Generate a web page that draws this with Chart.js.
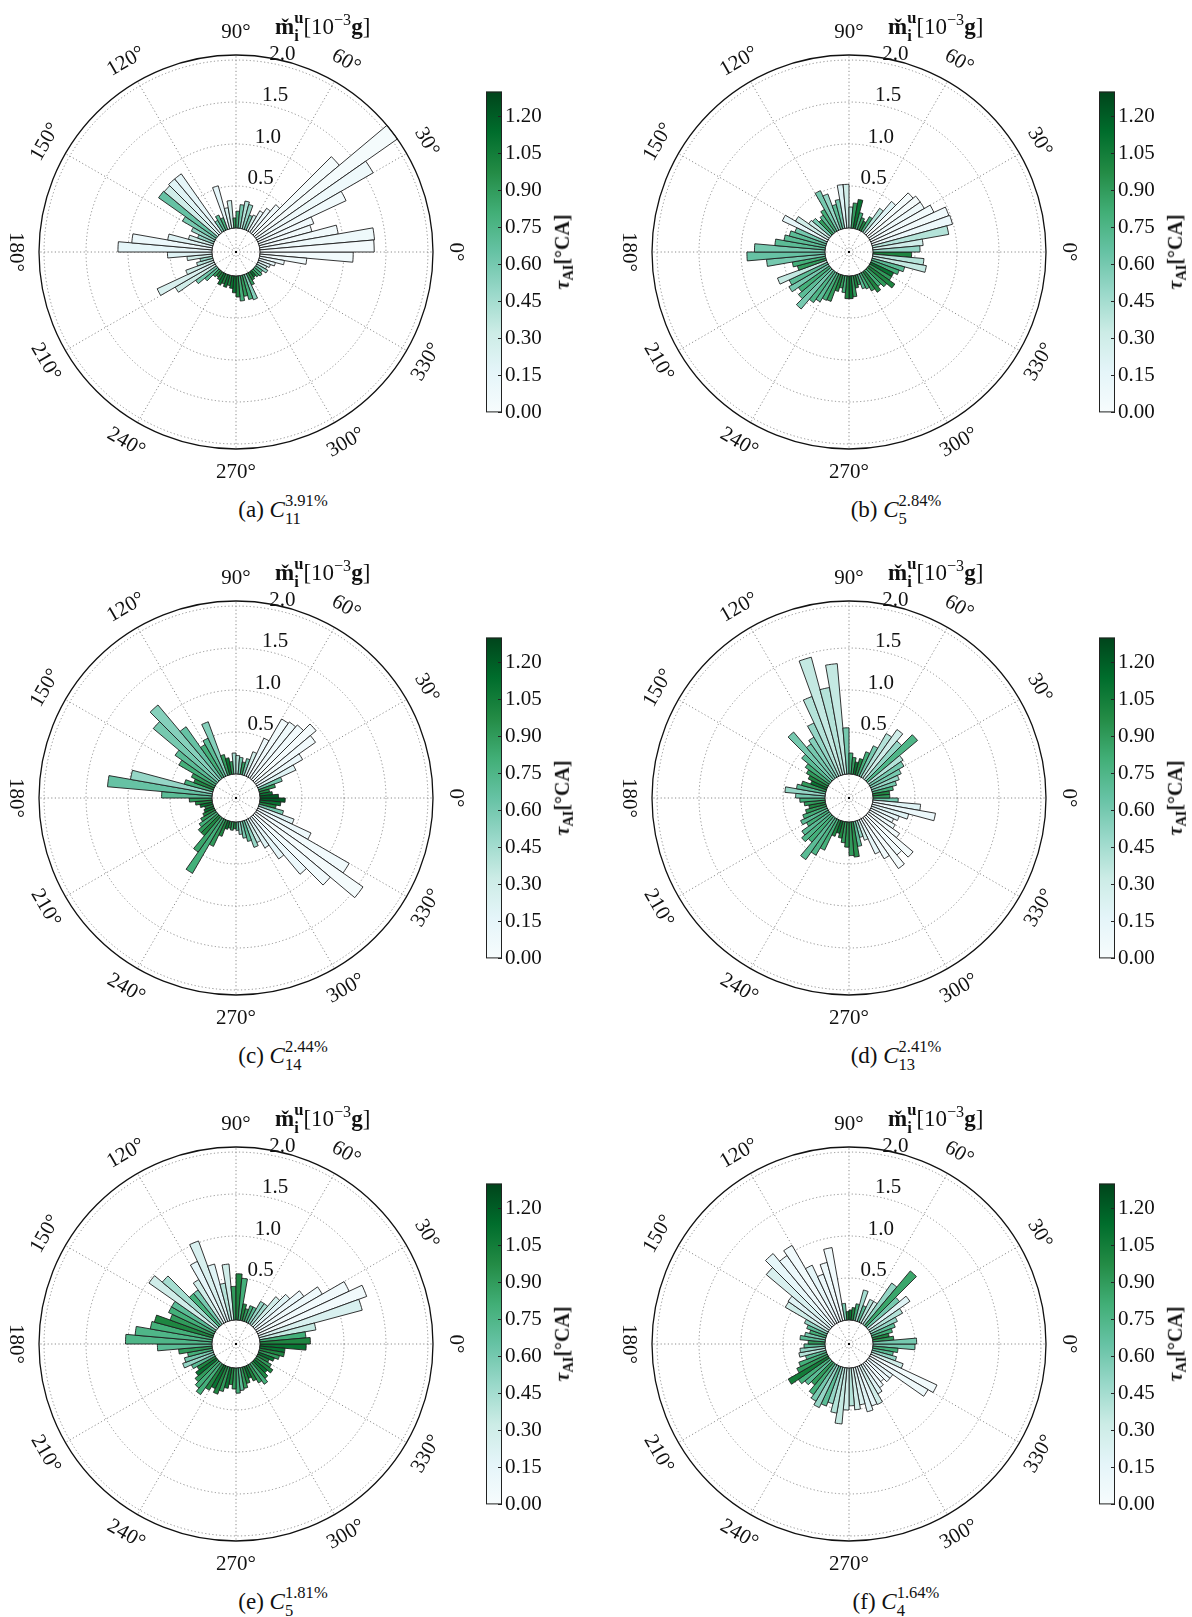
<!DOCTYPE html>
<html>
<head>
<meta charset="utf-8">
<script src="https://cdn.jsdelivr.net/npm/chart.js@4.4.0/dist/chart.umd.min.js"></script>
<style>
  body { margin: 0; background: #fff; }
  #page { position: relative; width: 1192px; height: 1617px; overflow: hidden;
          font-family: "Liberation Serif", "DejaVu Serif", serif; color: #111; }
  canvas { position: absolute; }
  .ttl { position: absolute; font-size: 23px; line-height: 28px; white-space: nowrap; }
  .cap { position: absolute; font-size: 23px; line-height: 28px; white-space: nowrap; transform: translateX(-50%); }
  .cbl { position: absolute; font-size: 20px; font-weight: bold; white-space: nowrap;
         transform: translate(-50%, -50%) rotate(-90deg); }
  .st { display: inline-block; vertical-align: -0.45em; font-size: 0.72em; line-height: 1.1; }
  .st span { display: block; }
  .sup { font-size: 0.7em; vertical-align: 0.55em; }
</style>
</head>
<body>
<div id="page"></div>
<script>
// angular bins, 5 degrees wide, bin k covers [5k, 5k+5]
const binLabels = Array.from({ length: 72 }, (_, k) => (5 * k) + "°");

const ringTicks = [0.5, 1.0, 1.5, 2.0];
const ringLabels = ["0.5", "1.0", "1.5", "2.0"];
const angleTicks = [0, 30, 60, 90, 120, 150, 180, 210, 240, 270, 300, 330];
const angleLabels = ["0°", "30°", "60°", "90°", "120°", "150°", "180°", "210°", "240°", "270°", "300°", "330°"];
const cbTicks = [0.00, 0.15, 0.30, 0.45, 0.60, 0.75, 0.90, 1.05, 1.20];

const R_MIN = -0.286;
const R_MAX = 2.06;
const TAU_MAX = 1.30;

// mass per bin [10^-3 g], bins 0..71 counter-clockwise from 0 deg
const massA = [1.36, 1.37, 0.95, 0.65, 0.70, 1.16, 1.60, 2.06, 1.32, 0.45,
               0.35, 0.28, 0.20, 0.18, 0.30, 0.33, 0.28, 0.20, 0.12, 0.33,
               0.25, 0.53, 0.15, 0.20, 0.15, 0.85, 0.85, 0.83, 0.84, 0.45,
               0.30, 0.20, 0.30, 0.54, 0.96, 1.12, 0.53, 0.30, 0.15, 0.20,
               0.35, 0.75, 0.55, 0.30, 0.20, 0.10, 0.08, 0.10, 0.15, 0.12,
               0.15, 0.12, 0.15, 0.20, 0.25, 0.30, 0.25, 0.30, 0.32, 0.15,
               0.10, 0.08, 0.10, 0.12, 0.10, 0.15, 0.12, 0.15, 0.20, 0.30,
               0.56, 1.11];
const tauA = [0.04, 0.08, 0.05, 0.05, 0.06, 0.05, 0.08, 0.03, 0.03, 0.05,
              0.10, 0.12, 0.30, 0.60, 0.50, 0.40, 0.60, 0.80, 0.90, 0.30,
              0.25, 0.15, 0.80, 0.70, 0.60, 0.15, 0.20, 0.30, 0.65, 0.60,
              0.50, 0.50, 0.30, 0.20, 0.10, 0.15, 0.20, 0.30, 0.50, 0.40,
              0.30, 0.25, 0.30, 0.60, 0.70, 0.90, 1.00, 1.00, 1.10, 1.00,
              1.10, 1.00, 1.10, 1.10, 1.00, 0.80, 0.90, 0.80, 0.55, 0.90,
              1.00, 1.10, 0.90, 0.80, 0.70, 0.50, 0.30, 0.20, 0.15, 0.10,
              0.05, 0.05];

const massB = [0.56, 0.60, 0.92, 0.99, 0.98, 0.83, 0.75, 0.75, 0.71, 0.50,
               0.35, 0.20, 0.12, 0.15, 0.20, 0.35, 0.30, 0.25, 0.52, 0.52,
               0.35, 0.30, 0.45, 0.52, 0.30, 0.25, 0.22, 0.28, 0.30, 0.45,
               0.59, 0.40, 0.45, 0.50, 0.60, 0.84, 0.93, 0.70, 0.40, 0.35,
               0.62, 0.50, 0.54, 0.45, 0.50, 0.60, 0.45, 0.40, 0.35, 0.34,
               0.20, 0.15, 0.20, 0.27, 0.27, 0.25, 0.15, 0.12, 0.18, 0.20,
               0.25, 0.30, 0.25, 0.30, 0.38, 0.30, 0.30, 0.35, 0.40, 0.65,
               0.61, 0.46];
const tauB = [0.50, 0.30, 0.40, 0.10, 0.05, 0.05, 0.08, 0.03, 0.03, 0.20,
              0.40, 0.80, 1.00, 0.90, 0.80, 1.10, 0.90, 0.40, 0.30, 0.20,
              0.60, 0.70, 0.50, 0.60, 0.80, 0.70, 0.90, 0.60, 0.30, 0.30,
              0.15, 0.60, 0.70, 0.70, 0.70, 0.60, 0.65, 0.60, 0.80, 0.90,
              0.35, 0.70, 0.60, 0.80, 0.70, 0.60, 0.75, 0.70, 0.80, 0.90,
              1.00, 0.90, 0.80, 1.00, 1.10, 0.90, 1.00, 0.90, 0.70, 0.80,
              0.90, 1.00, 0.80, 0.90, 1.00, 0.90, 1.10, 0.80, 0.70, 0.35,
              0.40, 1.00];

const massC = [0.22, 0.15, 0.12, 0.20, 0.30, 0.50, 0.63, 0.87, 0.96, 0.85,
               0.82, 0.80, 0.50, 0.30, 0.20, 0.15, 0.20, 0.22, 0.25, 0.15,
               0.20, 0.25, 0.68, 0.50, 0.45, 0.75, 1.16, 1.00, 0.60, 0.50,
               0.30, 0.25, 0.35, 0.99, 1.25, 0.60, 0.27, 0.20, 0.15, 0.10,
               0.12, 0.15, 0.20, 0.25, 0.30, 0.30, 0.50, 0.75, 0.35, 0.20,
               0.10, 0.08, 0.10, 0.08, 0.10, 0.15, 0.20, 0.25, 0.34, 0.30,
               0.40, 0.60, 0.90, 1.18, 1.56, 1.27, 0.70, 0.45, 0.30, 0.20,
               0.25, 0.30];
const tauC = [1.20, 1.10, 1.00, 0.90, 0.60, 0.20, 0.10, 0.05, 0.03, 0.05,
              0.08, 0.05, 0.10, 0.30, 0.60, 0.90, 0.60, 0.40, 0.45, 0.90,
              1.10, 0.90, 0.55, 0.70, 0.80, 0.65, 0.55, 0.60, 0.70, 0.80,
              0.90, 1.00, 0.80, 0.50, 0.65, 0.70, 0.90, 1.00, 1.10, 1.00,
              1.10, 1.00, 0.90, 0.80, 0.90, 1.00, 0.85, 0.80, 0.90, 1.00,
              1.10, 1.00, 0.90, 1.00, 0.70, 0.50, 0.60, 0.70, 0.50, 0.30,
              0.20, 0.15, 0.10, 0.05, 0.03, 0.05, 0.10, 0.20, 0.60, 1.00,
              1.10, 1.20];

const massD = [0.20, 0.20, 0.25, 0.30, 0.35, 0.40, 0.47, 0.50, 0.78, 0.60,
               0.71, 0.60, 0.40, 0.30, 0.20, 0.15, 0.20, 0.25, 0.55, 1.32,
               1.05, 1.45, 1.00, 0.70, 0.55, 0.50, 0.74, 0.45, 0.35, 0.30,
               0.25, 0.20, 0.30, 0.35, 0.48, 0.35, 0.30, 0.25, 0.20, 0.25,
               0.30, 0.35, 0.30, 0.40, 0.45, 0.40, 0.61, 0.50, 0.40, 0.20,
               0.15, 0.20, 0.25, 0.30, 0.40, 0.42, 0.30, 0.20, 0.25, 0.45,
               0.55, 0.74, 0.60, 0.71, 0.45, 0.35, 0.30, 0.35, 0.45, 0.76,
               0.57, 0.30];
const tauD = [0.90, 1.00, 0.80, 0.60, 0.50, 0.60, 0.60, 0.40, 0.75, 0.50,
              0.30, 0.40, 0.60, 0.80, 1.00, 1.10, 0.90, 0.80, 0.60, 0.35,
              0.40, 0.35, 0.40, 0.50, 0.55, 0.60, 0.60, 0.70, 0.80, 0.90,
              1.00, 1.10, 0.90, 0.70, 0.50, 0.60, 0.80, 0.90, 1.00, 0.90,
              0.80, 0.70, 0.80, 0.70, 0.75, 0.80, 0.70, 0.75, 0.80, 1.00,
              1.10, 1.00, 0.90, 0.95, 0.90, 0.95, 0.70, 0.50, 0.30, 0.15,
              0.05, 0.03, 0.05, 0.03, 0.05, 0.08, 0.10, 0.15, 0.20, 0.10,
              0.20, 0.60];

const massE = [0.60, 0.55, 0.68, 1.27, 1.37, 1.20, 0.90, 0.70, 0.55, 0.45,
               0.30, 0.30, 0.20, 0.20, 0.15, 0.20, 0.50, 0.55, 0.40, 0.67,
               0.45, 0.70, 1.02, 0.80, 0.60, 0.50, 0.50, 0.86, 0.98, 0.60,
               0.60, 0.55, 0.72, 0.75, 0.92, 1.03, 0.65, 0.40, 0.30, 0.35,
               0.39, 0.30, 0.25, 0.30, 0.35, 0.40, 0.45, 0.35, 0.30, 0.35,
               0.30, 0.25, 0.20, 0.25, 0.30, 0.27, 0.25, 0.20, 0.15, 0.20,
               0.25, 0.30, 0.25, 0.20, 0.25, 0.20, 0.15, 0.20, 0.25, 0.30,
               0.30, 0.55];
const tauE = [1.00, 0.80, 0.35, 0.25, 0.05, 0.05, 0.08, 0.10, 0.20, 0.30,
              0.45, 0.50, 0.70, 0.80, 0.90, 1.00, 0.80, 1.00, 0.90, 0.30,
              0.40, 0.20, 0.25, 0.15, 0.30, 0.60, 0.80, 0.45, 0.30, 0.70,
              0.80, 0.90, 1.00, 0.80, 0.75, 0.75, 0.70, 0.90, 0.80, 0.60,
              0.50, 0.70, 1.00, 1.10, 0.90, 0.80, 0.80, 1.00, 1.10, 1.00,
              0.90, 1.10, 1.00, 0.90, 0.80, 0.70, 0.90, 1.00, 1.10, 1.00,
              0.90, 0.80, 1.00, 1.10, 1.00, 0.90, 1.00, 1.10, 0.90, 1.00,
              1.10, 1.10];

const massF = [0.52, 0.25, 0.20, 0.25, 0.30, 0.35, 0.45, 0.60, 0.50, 0.85,
               0.60, 0.30, 0.30, 0.20, 0.38, 0.20, 0.15, 0.12, 0.10, 0.20,
               0.88, 0.72, 0.60, 0.75, 1.07, 1.00, 1.12, 1.00, 0.60, 0.59,
               0.30, 0.25, 0.20, 0.25, 0.30, 0.20, 0.25, 0.30, 0.32, 0.25,
               0.35, 0.40, 0.55, 0.45, 0.40, 0.35, 0.45, 0.50, 0.55, 0.50,
               0.45, 0.55, 0.67, 0.50, 0.45, 0.50, 0.45, 0.55, 0.50, 0.51,
               0.40, 0.35, 0.30, 0.35, 0.35, 0.80, 0.87, 0.40, 0.30, 0.25,
               0.30, 0.50];
const tauF = [0.60, 0.90, 1.00, 0.80, 0.70, 0.50, 0.40, 0.20, 0.60, 0.85,
              0.50, 0.30, 0.40, 0.70, 0.45, 0.80, 1.00, 1.10, 1.00, 0.60,
              0.05, 0.08, 0.10, 0.15, 0.05, 0.10, 0.15, 0.25, 0.20, 0.30,
              0.50, 0.70, 0.80, 0.60, 0.70, 0.90, 0.70, 0.50, 0.40, 0.70,
              0.80, 0.90, 1.05, 0.80, 0.70, 0.90, 0.80, 0.60, 0.50, 0.70,
              0.50, 0.40, 0.35, 0.30, 0.40, 0.30, 0.25, 0.20, 0.15, 0.30,
              0.20, 0.10, 0.08, 0.10, 0.15, 0.08, 0.05, 0.30, 0.50, 0.70,
              0.80, 0.60];

const panelMass = [massA, massB, massC, massD, massE, massF];
const panelTau = [tauA, tauB, tauC, tauD, tauE, tauF];
const capLetters = ["a", "b", "c", "d", "e", "f"];
const capSub = ["11", "5", "14", "13", "5", "4"];
const capSup = ["3.91%", "2.84%", "2.44%", "2.41%", "1.81%", "1.64%"];

// panel centres on the page
const centers = [[236, 252], [849, 252], [236, 798], [849, 798], [236, 1344], [849, 1344]];

// matplotlib BuGn
const bugn = [[247, 252, 253], [229, 245, 249], [204, 236, 230], [153, 216, 201], [102, 194, 164],
              [65, 174, 118], [35, 139, 69], [0, 109, 44], [0, 68, 27]];

function bugnColor(tau) {
    let t = Math.max(0, Math.min(1, tau / TAU_MAX));
    const p = t * (bugn.length - 1);
    const i = Math.min(Math.floor(p), bugn.length - 2);
    const f = p - i;
    const c = bugn[i].map((v, j) => Math.round(v + (bugn[i + 1][j] - v) * f));
    return `rgb(${c[0]},${c[1]},${c[2]})`;
}

const SERIF = '"Liberation Serif", "DejaVu Serif", serif';
const DOT = [1.2, 2.4];

// grid, hole, outer circle and labels for the polar axes
const polarDecor = {
    id: "polarDecor",
    beforeDatasetsDraw(chart) {
        const s = chart.scales.r, ctx = chart.ctx;
        const cx = s.xCenter, cy = s.yCenter;
        const rOut = s.getDistanceFromCenterForValue(R_MAX);
        ctx.save();
        ctx.strokeStyle = "#8c8c8c";
        ctx.lineWidth = 1;
        ctx.setLineDash(DOT);
        ringTicks.forEach(v => {
            ctx.beginPath();
            ctx.arc(cx, cy, s.getDistanceFromCenterForValue(v), 0, 2 * Math.PI);
            ctx.stroke();
        });
        angleTicks.forEach(a => {
            const t = -a * Math.PI / 180;
            ctx.beginPath();
            ctx.moveTo(cx, cy);
            ctx.lineTo(cx + rOut * Math.cos(t), cy + rOut * Math.sin(t));
            ctx.stroke();
        });
        ctx.restore();
    },
    afterDatasetsDraw(chart) {
        const s = chart.scales.r, ctx = chart.ctx;
        const cx = s.xCenter, cy = s.yCenter;
        const r0 = s.getDistanceFromCenterForValue(0);
        const rOut = s.getDistanceFromCenterForValue(R_MAX);
        ctx.save();
        // hole
        ctx.beginPath();
        ctx.arc(cx, cy, r0, 0, 2 * Math.PI);
        ctx.fillStyle = "#fff";
        ctx.fill();
        ctx.strokeStyle = "#1a1a1a";
        ctx.lineWidth = 1;
        ctx.stroke();
        ctx.strokeStyle = "#8c8c8c";
        ctx.setLineDash(DOT);
        angleTicks.forEach(a => {
            const t = -a * Math.PI / 180;
            ctx.beginPath();
            ctx.moveTo(cx, cy);
            ctx.lineTo(cx + (r0 - 1.5) * Math.cos(t), cy + (r0 - 1.5) * Math.sin(t));
            ctx.stroke();
        });
        ctx.setLineDash([]);
        ctx.fillStyle = "#000";
        ctx.fillRect(cx - 1, cy - 1, 2, 2);
        // outer frame
        ctx.beginPath();
        ctx.arc(cx, cy, rOut, 0, 2 * Math.PI);
        ctx.strokeStyle = "#111";
        ctx.lineWidth = 1.3;
        ctx.stroke();
        // radial tick labels
        ctx.font = "21px " + SERIF;
        ctx.fillStyle = "#111";
        ctx.textAlign = "left";
        ctx.textBaseline = "bottom";
        const tl = -80 * Math.PI / 180;
        ringTicks.forEach((v, i) => {
            const r = s.getDistanceFromCenterForValue(v);
            ctx.fillText(ringLabels[i], cx + r * Math.cos(tl), cy + r * Math.sin(tl) + 2);
        });
        // angle labels
        ctx.font = "21px " + SERIF;
        ctx.textAlign = "center";
        ctx.textBaseline = "middle";
        const rl = rOut + 23;
        angleTicks.forEach((a, i) => {
            const t = -a * Math.PI / 180;
            let rot = 90 - a;
            while (rot > 90) rot -= 180;
            while (rot <= -90) rot += 180;
            ctx.save();
            ctx.translate(cx + rl * Math.cos(t), cy + rl * Math.sin(t));
            ctx.rotate(rot * Math.PI / 180);
            ctx.fillText(angleLabels[i], 0, 0);
            ctx.restore();
        });
        ctx.restore();
    }
};

// colorbar frame and inner tick marks
const cbFrame = {
    id: "cbFrame",
    afterDatasetsDraw(chart) {
        const a = chart.chartArea, ctx = chart.ctx, y = chart.scales.y;
        ctx.save();
        ctx.strokeStyle = "#222";
        ctx.lineWidth = 1;
        ctx.strokeRect(a.left + 0.5, a.top + 0.5, a.right - a.left - 1, a.bottom - a.top - 1);
        cbTicks.forEach(v => {
            const py = Math.round(y.getPixelForValue(v)) + 0.5;
            ctx.beginPath();
            ctx.moveTo(a.right - 4, py);
            ctx.lineTo(a.right, py);
            ctx.stroke();
        });
        ctx.restore();
    }
};

function cbGradient(chart) {
    const a = chart.chartArea;
    if (!a) return "#fff";
    const g = chart.ctx.createLinearGradient(0, a.bottom, 0, a.top);
    bugn.forEach((c, i) => g.addColorStop(i / (bugn.length - 1), `rgb(${c[0]},${c[1]},${c[2]})`));
    return g;
}

function makePolar(canvas, mass, tau) {
    return new Chart(canvas, {
        type: "polarArea",
        data: {
            labels: binLabels.slice().reverse(),
            datasets: [{
                data: mass.slice().reverse(),
                backgroundColor: tau.slice().reverse().map(bugnColor),
                borderColor: "#1e1e1e",
                borderWidth: 0.9
            }]
        },
        options: {
            responsive: false,
            animation: false,
            events: [],
            layout: { padding: 38 },
            plugins: { legend: { display: false }, tooltip: { enabled: false } },
            scales: {
                r: {
                    min: R_MIN,
                    max: R_MAX,
                    startAngle: 90,
                    ticks: { display: false },
                    grid: { display: false },
                    angleLines: { display: false },
                    pointLabels: { display: false }
                }
            }
        },
        plugins: [polarDecor]
    });
}

function makeColorbar(canvas) {
    return new Chart(canvas, {
        type: "bar",
        data: {
            labels: [""],
            datasets: [{
                data: [TAU_MAX],
                backgroundColor: c => cbGradient(c.chart),
                borderWidth: 0,
                barPercentage: 1,
                categoryPercentage: 1
            }]
        },
        options: {
            responsive: false,
            animation: false,
            events: [],
            layout: { padding: { top: 14, bottom: 14, left: 0, right: 0 } },
            plugins: { legend: { display: false }, tooltip: { enabled: false } },
            scales: {
                x: { display: false },
                y: {
                    position: "right",
                    min: 0,
                    max: TAU_MAX,
                    grid: { display: false, drawTicks: false },
                    border: { display: false },
                    ticks: {
                        color: "#111",
                        padding: 3,
                        font: { family: SERIF, size: 21 },
                        callback: v => Number(v).toFixed(2)
                    },
                    afterBuildTicks: s => { s.ticks = cbTicks.map(v => ({ value: v })); },
                    afterFit: s => { s.width = 60; }
                }
            }
        },
        plugins: [cbFrame]
    });
}

const page = document.getElementById("page");

centers.forEach(([cx, cy], p) => {
    const pc = document.createElement("canvas");
    pc.width = 470; pc.height = 470;
    pc.style.left = (cx - 235) + "px";
    pc.style.top = (cy - 235) + "px";
    page.appendChild(pc);
    makePolar(pc, panelMass[p], panelTau[p]);

    const cb = document.createElement("canvas");
    cb.width = 76; cb.height = 352;
    cb.style.left = (cx + 250) + "px";
    cb.style.top = (cy - 176) + "px";
    page.appendChild(cb);
    makeColorbar(cb);

    const cbl = document.createElement("div");
    cbl.className = "cbl";
    cbl.style.left = (cx + 328) + "px";
    cbl.style.top = cy + "px";
    cbl.innerHTML = '<i>τ</i><span style="font-size:0.72em;vertical-align:-0.3em">AI</span>[°CA]';
    page.appendChild(cbl);

    const ttl = document.createElement("div");
    ttl.className = "ttl";
    ttl.style.left = (cx + 39) + "px";
    ttl.style.top = (cy - 246) + "px";
    ttl.innerHTML = '<b>m\u030C</b><span class="st"><span><b>u</b></span><span><b>i</b></span></span>' +
                    '[10<span class="sup">−3</span><b>g</b>]';
    page.appendChild(ttl);

    const cap = document.createElement("div");
    cap.className = "cap";
    cap.style.left = (cx + 47) + "px";
    cap.style.top = (cy + 240) + "px";
    cap.innerHTML = `(${capLetters[p]}) <i>C</i><span class="st"><span>${capSup[p]}</span><span>${capSub[p]}</span></span>`;
    page.appendChild(cap);
});
</script>
</body>
</html>
